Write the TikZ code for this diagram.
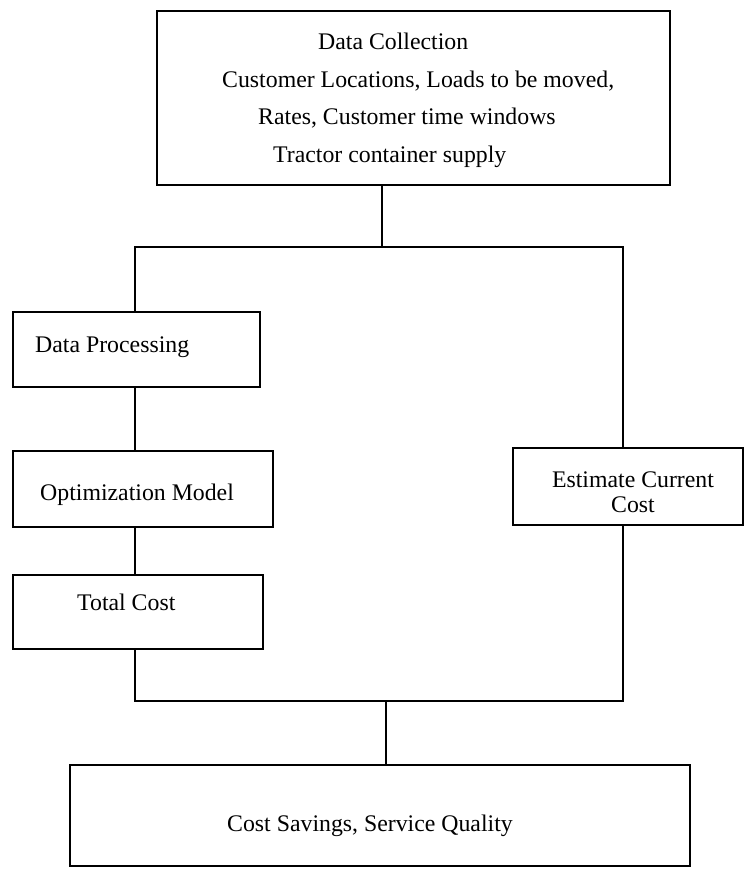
\documentclass[tikz,border=0pt]{standalone}
\usepackage{fontspec}
\setmainfont{Liberation Serif}
\begin{document}
\begin{tikzpicture}[x=1pt,y=-1pt,
  box/.style n args={2}{draw, line width=1.9pt, minimum width=#1pt, minimum height=#2pt, inner sep=0pt},
  conn/.style={line width=1.9pt},
  txt/.style={font=\fontsize{23.8}{28}\selectfont, inner sep=0pt, anchor=base west},
  ctxt/.style={font=\fontsize{23.8}{28}\selectfont, inner sep=0pt, anchor=base}]
\fill[white] (0,0) rectangle (747,871);
\useasboundingbox (0,0) rectangle (747,871);
% boxes
\node[box={513}{174}] (top) at (413.5,98) {};
\node[box={247}{75}] (dp) at (136.5,349.5) {};
\node[box={260}{76}] (om) at (143,489) {};
\node[box={250}{74}] (tc) at (138,612) {};
\node[box={230}{77}] (ec) at (628,486.5) {};
\node[box={620}{101}] (bot) at (380,815.5) {};
% texts
\node[txt] (t1) at (318,49) {Data Collection};
\node[txt] (t2) at (222,87) {Customer Locations, Loads to be moved,};
\node[txt] (t3) at (258,124) {Rates, Customer time windows};
\node[txt] (t4) at (273,162) {Tractor container supply};
\node[txt] (t5) at (35,352) {Data Processing};
\node[txt] (t6) at (40,500) {Optimization Model};
\node[txt] (t7) at (77,610) {Total Cost};
\node[ctxt] (t8) at (633,487) {Estimate Current};
\node[ctxt] (t9) at (633,512) {Cost};
\node[ctxt] (t10) at (370,831) {Cost Savings, Service Quality};
% junctions
\coordinate (jt) at (382,247);
\coordinate (bl) at (135,247);
\coordinate (br) at (623,247);
\coordinate (ml) at (135,701);
\coordinate (mr) at (623,701);
\coordinate (mc) at (386,701);
% connectors
\draw[conn] (top.south -| jt) -- (jt);
\draw[conn] (dp.north -| bl) -- (bl) -- (br) -- (ec.north -| br);
\draw[conn] (dp.south -| bl) -- (om.north -| bl);
\draw[conn] (om.south -| bl) -- (tc.north -| bl);
\draw[conn] (tc.south -| ml) -- (ml) -- (mr) -- (ec.south -| mr);
\draw[conn] (mc) -- (bot.north -| mc);
\end{tikzpicture}
\end{document}
